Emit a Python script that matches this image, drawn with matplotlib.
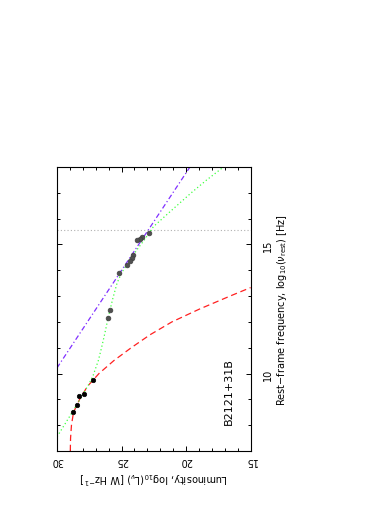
import matplotlib
matplotlib.use("Agg")
import matplotlib.pyplot as plt
from matplotlib.ticker import MultipleLocator

# ---- data (log10 rest-frame frequency [Hz], log10 luminosity [W/Hz]) ----
gray_freq = [15.43, 15.30, 15.23, 15.17, 14.59, 14.46, 14.37, 14.20, 13.90, 12.45, 12.17]
gray_lum = [22.85, 23.39, 23.57, 23.82, 24.08, 24.21, 24.34, 24.60, 25.17, 25.89, 26.02]

black_freq = [9.74, 9.22, 9.14, 8.80, 8.52]
black_lum = [27.23, 27.91, 28.27, 28.43, 28.73]

# synchrotron model (red dashed)
red_freq = [7.0, 7.5, 8.0, 8.5, 9.0, 9.5, 10.0, 10.5, 11.0, 11.5, 12.0, 12.5, 13.0, 13.33]
red_lum = [28.97, 28.95, 28.88, 28.72, 28.25, 27.65, 26.75, 25.6, 24.25, 22.8, 21.1, 18.95, 16.6, 15.0]

# polynomial fit (green dotted)
green_freq = [7.55, 8.13, 8.7, 9.22, 9.6, 9.93, 10.5, 11.0, 11.5, 12.2, 12.9, 13.5, 13.9,
              14.33, 14.8, 15.2, 15.69, 16.27, 17.0, 17.5, 18.0]
green_lum = [30.0, 29.28, 28.58, 27.96, 27.52, 27.2, 26.8, 26.55, 26.32, 26.02, 25.68, 25.35, 25.0,
             24.45, 23.8, 23.2, 22.53, 21.24, 19.6, 18.4, 17.1]

# power law (purple dash-dot)
purple_freq = [10.22, 18.0]
purple_lum = [30.0, 19.7]

vline_freq = 15.55
source_name = "B2121+31B"

fig = plt.figure(figsize=(3.91, 5.06), dpi=100)
ax = fig.add_axes([0.1458, 0.1067, 0.641 - 0.1458, 0.668 - 0.1067])

ax.axhline(vline_freq, color="#b0b0b0", lw=0.8, ls=(0, (1, 2)))
ax.plot(red_lum, red_freq, color="#ff2020", lw=0.9, ls=(0, (5, 3)))
ax.plot(green_lum, green_freq, color="#40ff40", lw=0.9, ls=(0, (1, 2)))
ax.plot(purple_lum, purple_freq, color="#8030ff", lw=0.9, ls=(0, (4, 2, 1, 2)))

ax.plot(gray_lum, gray_freq, "o", ms=3.4, mfc="#505050", mec="#404040", mew=0.5, ls="none")
ax.plot(black_lum, black_freq, "o", ms=3.2, mfc="black", mec="black", mew=0.5, ls="none")

ax.set_xlim(30, 15)
ax.set_ylim(7, 18)

ax.xaxis.set_major_locator(MultipleLocator(5))
ax.xaxis.set_minor_locator(MultipleLocator(1))
ax.yaxis.set_major_locator(MultipleLocator(5))
ax.yaxis.set_minor_locator(MultipleLocator(1))

ax.yaxis.tick_right()
ax.yaxis.set_label_position("right")
ax.tick_params(which="both", direction="in", top=True, bottom=True, left=True, right=True,
               width=0.7, labelsize=7, colors="black")
ax.tick_params(which="major", length=3.5)
ax.tick_params(which="minor", length=2)
ax.tick_params(axis="x", labelrotation=180, pad=3)
ax.tick_params(axis="y", labelrotation=90, pad=9)
for lab in ax.get_yticklabels():
    lab.set_va("center")

for s in ax.spines.values():
    s.set_linewidth(0.8)

ax.set_xlabel(r"Luminosity, log$_{10}$(L$_\nu$) [W Hz$^{-1}$]", rotation=180, fontsize=7, labelpad=3)
ax.set_ylabel(r"Rest$-$frame frequency, log$_{10}$($\nu_{\rm rest}$) [Hz]", rotation=90,
              fontsize=7, labelpad=1)

ax.text(16.65, 9.35, source_name, rotation=90, fontsize=8, ha="center", va="center")

fig.savefig("out.png", dpi=100)
